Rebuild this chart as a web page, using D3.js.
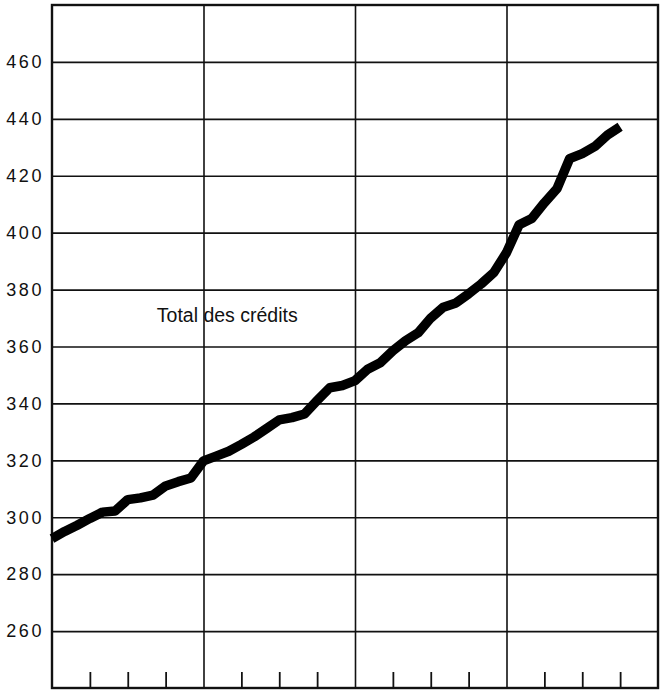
<!DOCTYPE html>
<html>
<head>
<meta charset="utf-8">
<script src="https://cdn.jsdelivr.net/npm/d3@7"></script>
<style>
  body { margin: 0; background: #fff; }
  svg { display: block; }
  .tick text { font-family: "Liberation Sans", Arial, sans-serif; font-size: 18px; letter-spacing: 2.6px; fill: #111; }
  .series-label { font-family: "Liberation Sans", Arial, sans-serif; font-size: 19.5px; fill: #111; }
</style>
</head>
<body>
<svg width="661" height="694"></svg>
<script>
  // months since start, one point per month
  const months = d3.range(0, 46);
  const credits = [
    292.5, 295.0, 297.2, 299.6, 301.8, 302.2, 306.2, 306.8, 307.8, 311.0, 312.5, 313.8,
    319.8, 321.5, 323.2, 325.6, 328.2, 331.2, 334.2, 335.0, 336.3, 341.0, 345.5, 346.3,
    348.0, 352.0, 354.3, 358.5, 362.0, 364.8, 370.0, 373.8, 375.3, 378.5, 382.0, 386.0,
    393.0, 402.8, 405.0, 410.5, 415.5, 426.0, 427.8, 430.3, 434.3, 437.2
  ];
  const yTicks = [260, 280, 300, 320, 340, 360, 380, 400, 420, 440, 460];
  const yearBreaks = [12, 24, 36];
  const quarterTicks = d3.range(3, 48, 3).filter(m => m % 12 !== 0);
  const seriesLabel = 'Total des crédits';

  const svg = d3.select('svg');
  const margin = { top: 5, right: 3, bottom: 6, left: 52 };
  const width = +svg.attr('width') - margin.left - margin.right;
  const height = +svg.attr('height') - margin.top - margin.bottom;

  const g = svg.append('g')
    .attr('transform', `translate(${margin.left},${margin.top})`);

  const xScale = d3.scaleLinear().domain([0, 48]).range([0, width]);
  const yScale = d3.scaleLinear().domain([240, 480]).range([height, 0]);

  // horizontal grid + labels
  const yAxisG = g.append('g')
    .call(d3.axisLeft(yScale)
      .tickValues(yTicks)
      .tickSize(-width)
      .tickPadding(8));
  yAxisG.select('.domain').remove();
  yAxisG.selectAll('line').attr('stroke', '#111').attr('stroke-width', 1.6);

  // vertical year lines
  const gridG = g.append('g')
    .attr('transform', `translate(0,${height})`)
    .call(d3.axisBottom(xScale).tickValues(yearBreaks).tickSize(-height).tickFormat(''));
  gridG.select('.domain').remove();
  gridG.selectAll('line').attr('stroke', '#111').attr('stroke-width', 1.6);

  // quarter ticks along bottom
  const qG = g.append('g')
    .attr('transform', `translate(0,${height})`)
    .call(d3.axisBottom(xScale).tickValues(quarterTicks).tickSize(-16).tickFormat(''));
  qG.select('.domain').remove();
  qG.selectAll('line').attr('stroke', '#111').attr('stroke-width', 1.8);

  // frame
  g.append('rect')
    .attr('width', width)
    .attr('height', height)
    .attr('fill', 'none')
    .attr('stroke', '#111')
    .attr('stroke-width', 2.4);

  const line = d3.line()
    .x((d, i) => xScale(months[i]))
    .y(d => yScale(d));

  g.append('path')
    .attr('d', line(credits))
    .attr('fill', 'none')
    .attr('stroke', '#000')
    .attr('stroke-width', 9.5)
    .attr('stroke-linejoin', 'round')
    .attr('stroke-linecap', 'butt');

  g.append('text')
    .attr('class', 'series-label')
    .attr('x', xScale(8.3))
    .attr('y', yScale(368.6))
    .text(seriesLabel);
</script>
</body>
</html>
